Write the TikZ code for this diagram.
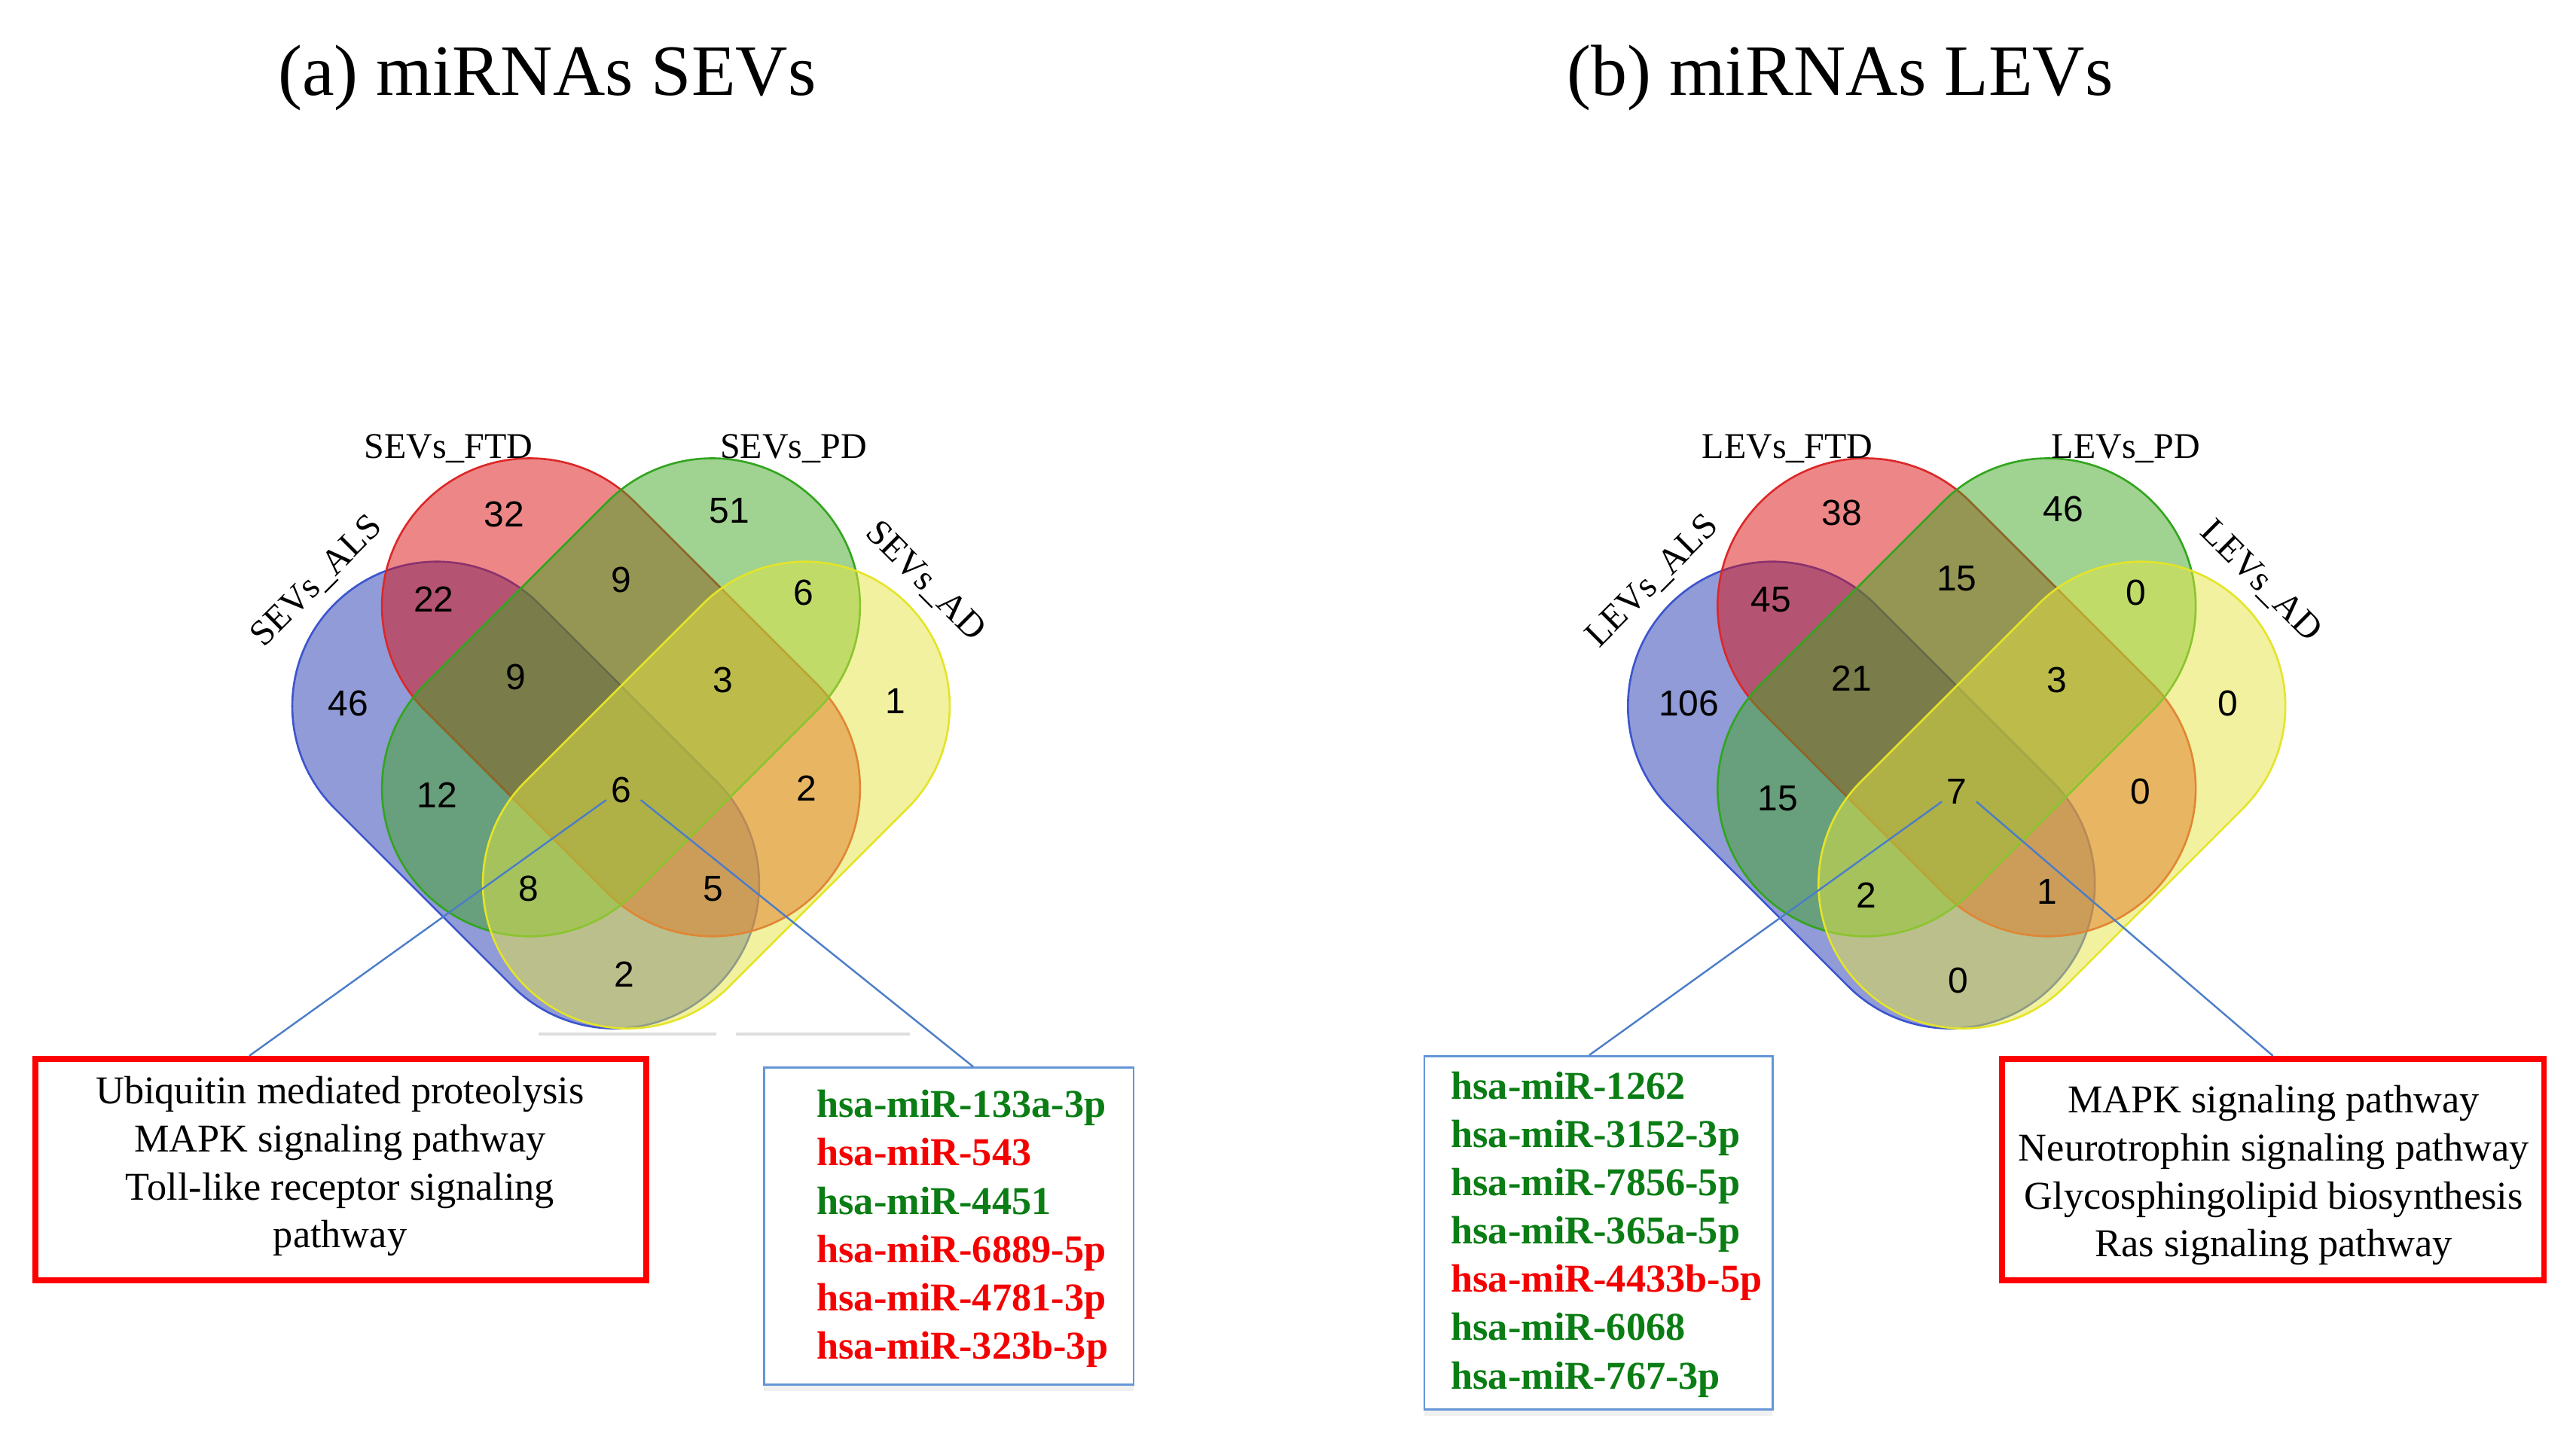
\documentclass[tikz,border=0pt]{standalone}
\usepackage{fontspec}
\setmainfont{Liberation Serif}
\newfontfamily\numfont{Liberation Sans}
\usetikzlibrary{shapes.misc,shadows,calc}
\definecolor{vblue}{RGB}{35,55,175}
\definecolor{vred}{RGB}{219,15,15}
\definecolor{vgreen}{RGB}{65,165,35}
\definecolor{vyellow}{RGB}{228,228,65}
\definecolor{eblue}{RGB}{60,85,205}
\definecolor{ered}{RGB}{220,40,40}
\definecolor{egreen}{RGB}{50,165,30}
\definecolor{eyellow}{RGB}{228,228,40}
\definecolor{mirgreen}{RGB}{10,125,20}
\definecolor{mirred}{RGB}{245,0,0}
\definecolor{boxblue}{RGB}{100,150,215}
\definecolor{linkblue}{RGB}{75,125,200}
\definecolor{faint}{RGB}{222,222,222}
\begin{document}
\begin{tikzpicture}[x=1pt,y=-1pt,
  vset/.style={rounded rectangle, inner sep=0pt, outer sep=0pt, fill opacity=0.5, line width=1.2pt},
  bigset/.style={vset, minimum width=337pt, minimum height=180pt},
  smallset/.style={vset, minimum width=329pt, minimum height=176pt},
  vnum/.style={font=\numfont\fontsize{22}{26}\selectfont, inner sep=0pt},
  setlabel/.style={font=\fontsize{22}{26}\selectfont, inner sep=0pt},
  ttl/.style={font=\fontsize{44}{50}\selectfont, inner sep=0pt, anchor=base},
  pathbox/.style={draw=red, line width=3.5pt, inner sep=0pt},
  pathtext/.style={font=\fontsize{24}{29.3}\selectfont, align=center, inner sep=0pt},
  mirbox/.style={draw=boxblue, line width=1.3pt, fill=white, inner sep=0pt,
    drop shadow={shadow xshift=0pt, shadow yshift=-4pt, opacity=0.15, fill=black!40}},
  mirtext/.style={font=\bfseries\fontsize{24}{29.4}\selectfont, align=left, inner sep=0pt, anchor=west},
  linkline/.style={draw=linkblue, line width=1.1pt},
  faintline/.style={draw=faint, line width=1.6pt},
]
\useasboundingbox (0,0) rectangle (1568,882);

% titles
\node[ttl] (ta) at (333,58) {(a) miRNAs SEVs};
\node[ttl] (tb) at (1120,58) {(b) miRNAs LEVs};

% ---------- Venn (a) ----------
\node[smallset, fill=vblue, draw=eblue, rotate=-45] (aALS) at (320,484) {};
\node[bigset, fill=vred, draw=ered, rotate=-45] (aFTD) at (378,424.5) {};
\node[bigset, fill=vgreen, draw=egreen, rotate=45] (aPD) at (378,424.5) {};
\node[smallset, fill=vyellow, draw=eyellow, rotate=45] (aAD) at (436,484) {};

\node[setlabel, anchor=base] (laFTD) at (273,279) {SEVs\_FTD};
\node[setlabel, anchor=base] (laPD) at (483,279) {SEVs\_PD};
\node[setlabel, rotate=45] (laALS) at (193,354) {SEVs\_ALS};
\node[setlabel, rotate=-45] (laAD) at (563,354) {SEVs\_AD};

\node[vnum] (a32) at (307,313) {32};
\node[vnum] (a51) at (444,311) {51};
\node[vnum] (a22) at (264,365) {22};
\node[vnum] (a9t) at (378,353) {9};
\node[vnum] (a6r) at (489,361) {6};
\node[vnum] (a46) at (212,428) {46};
\node[vnum] (a9l) at (314,412) {9};
\node[vnum] (a3) at (440,414) {3};
\node[vnum] (a1) at (545,427) {1};
\node[vnum] (a12) at (266,484) {12};
\node[vnum] (a6) at (378,481) {6};
\node[vnum] (a2r) at (491,480) {2};
\node[vnum] (a8) at (322,541) {8};
\node[vnum] (a5) at (434,541) {5};
\node[vnum] (a2b) at (380,593) {2};

\draw[faintline] (328,629.5) -- (436,629.5);
\draw[faintline] (448,629.5) -- (554,629.5);

% boxes (a)
\node[pathbox, minimum width=372pt, minimum height=135pt] (aR) at (207.5,712) {};
\node[pathtext] (aRt) at (207,710) {Ubiquitin mediated proteolysis\\MAPK signaling pathway\\Toll-like receptor signaling\\pathway};
\node[mirbox, minimum width=225pt, minimum height=193pt] (aB) at (577.5,746.5) {};
\node[mirtext] (aBt) at (497,748) {\textcolor{mirgreen}{hsa-miR-133a-3p}\\\textcolor{mirred}{hsa-miR-543}\\\textcolor{mirgreen}{hsa-miR-4451}\\\textcolor{mirred}{hsa-miR-6889-5p}\\\textcolor{mirred}{hsa-miR-4781-3p}\\\textcolor{mirred}{hsa-miR-323b-3p}};

\draw[linkline] ($(a6)+(-9,6)$) -- ([xshift=132pt]aR.north west);
\draw[linkline] ($(a6)+(12,6)$) -- ([xshift=128pt]aB.north west);

% ---------- Venn (b) ----------
\node[smallset, fill=vblue, draw=eblue, rotate=-45] (bALS) at (1133,484) {};
\node[bigset, fill=vred, draw=ered, rotate=-45] (bFTD) at (1191,424.5) {};
\node[bigset, fill=vgreen, draw=egreen, rotate=45] (bPD) at (1191,424.5) {};
\node[smallset, fill=vyellow, draw=eyellow, rotate=45] (bAD) at (1249,484) {};

\node[setlabel, anchor=base] (lbFTD) at (1088,279) {LEVs\_FTD};
\node[setlabel, anchor=base] (lbPD) at (1294,279) {LEVs\_PD};
\node[setlabel, rotate=45] (lbALS) at (1006,354) {LEVs\_ALS};
\node[setlabel, rotate=-45] (lbAD) at (1376,354) {LEVs\_AD};

\node[vnum] (b38) at (1121,312) {38};
\node[vnum] (b46) at (1256,310) {46};
\node[vnum] (b45) at (1078,365) {45};
\node[vnum] (b15t) at (1191,352) {15};
\node[vnum] (b0r) at (1300,361) {0};
\node[vnum] (b106) at (1028,428) {106};
\node[vnum] (b21) at (1127,413) {21};
\node[vnum] (b3) at (1252,414) {3};
\node[vnum] (b0o) at (1356,428) {0};
\node[vnum] (b15l) at (1082,486) {15};
\node[vnum] (b7) at (1191,482) {7};
\node[vnum] (b0m) at (1303,482) {0};
\node[vnum] (b2) at (1136,545) {2};
\node[vnum] (b1) at (1246,543) {1};
\node[vnum] (b0b) at (1192,597) {0};

% boxes (b)
\node[mirbox, minimum width=212pt, minimum height=215pt] (bB) at (973,750.5) {};
\node[mirtext] (bBt) at (883,751.5) {\textcolor{mirgreen}{hsa-miR-1262}\\\textcolor{mirgreen}{hsa-miR-3152-3p}\\\textcolor{mirgreen}{hsa-miR-7856-5p}\\\textcolor{mirgreen}{hsa-miR-365a-5p}\\\textcolor{mirred}{hsa-miR-4433b-5p}\\\textcolor{mirgreen}{hsa-miR-6068}\\\textcolor{mirgreen}{hsa-miR-767-3p}};
\node[pathbox, minimum width=330pt, minimum height=135pt] (bR) at (1383.5,712) {};
\node[pathtext] (bRt) at (1384,715.5) {MAPK signaling pathway\\Neurotrophin signaling pathway\\Glycosphingolipid biosynthesis\\Ras signaling pathway};

\draw[linkline] ($(b7)+(-9,6)$) -- ([xshift=101pt]bB.north west);
\draw[linkline] ($(b7)+(12,6)$) -- (bR.north);
\end{tikzpicture}
\end{document}
